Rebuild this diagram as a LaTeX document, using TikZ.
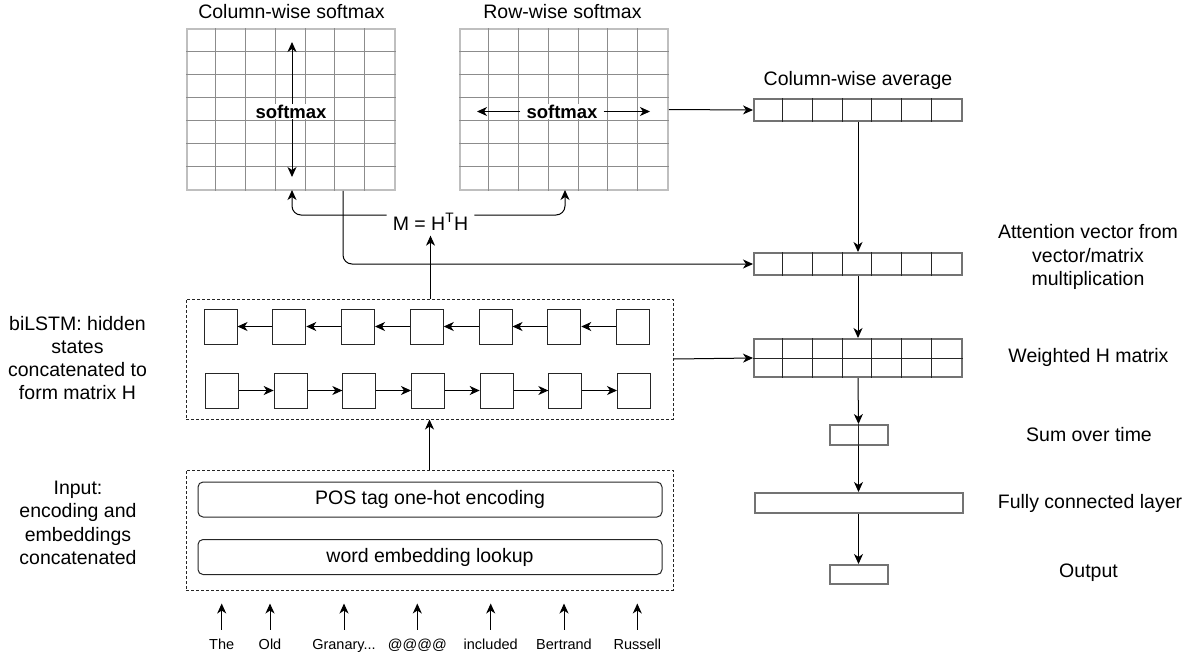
\documentclass[tikz,border=0pt]{standalone}
\usepackage{fontspec}
\setmainfont{Liberation Sans}
\usetikzlibrary{arrows.meta,calc}
\begin{document}
\begin{tikzpicture}[x=1pt,y=-1pt,
  lbl/.style={font=\fontsize{19.5}{23.3}\selectfont, align=center, inner sep=0pt},
  arr/.style={-{Stealth[length=10pt,width=9pt,inset=3pt]}, line width=1pt, black},
  gridfr/.style={draw=black!25, line width=1.5pt, minimum width=208pt, minimum height=161pt, inner sep=0pt},
  gline/.style={draw=black!45, line width=1pt},
  vecfr/.style={draw=black!55, line width=2pt, inner sep=0pt, minimum width=208pt, minimum height=22pt},
  vline/.style={draw=black!85, line width=1pt},
  cellbox/.style={draw=black!85, line width=1pt, minimum width=33pt, minimum height=35pt, inner sep=0pt},
  dbox/.style={draw=black!85, line width=1pt, dash pattern=on 3pt off 2pt, inner sep=0pt, minimum width=487pt, minimum height=120pt},
  rbox/.style={draw=black!85, line width=1pt, rounded corners=5pt, minimum width=464pt, minimum height=35pt, inner sep=0pt, font=\fontsize{19.5}{23.3}\selectfont},
  word/.style={font=\fontsize{14.5}{17}\selectfont, anchor=base, inner sep=0pt, text height=11pt, text depth=3pt},
  smx/.style={font=\fontsize{18.5}{22}\selectfont\bfseries, fill=white, inner xsep=1pt, inner ysep=0.5pt},
  warr/.style={arr, shorten <=8pt, shorten >=13pt},
]
\useasboundingbox (0,0) rectangle (1197,657);

% ---------- grids ----------
\node[gridfr] (cs) at (291,109.5) {};
\node[gridfr] (rs) at (564,109.5) {};
\foreach \g in {cs,rs}{
  \foreach \i in {1,...,6}{
    \draw[gline] ($(\g.north west)+(\i*208/7,0)$) -- ($(\g.south west)+(\i*208/7,0)$);
    \draw[gline] ($(\g.north west)+(0,\i*161/7)$) -- ($(\g.north east)+(0,\i*161/7)$);
  }
}
\node[lbl] (t1) at (291.5,12) {Column-wise softmax};
\node[lbl] (t2) at (562.5,12) {Row-wise softmax};

\node[smx] (sm1) at (291,111.5) {softmax};
\coordinate (cst) at (292,42);
\coordinate (csb) at (292,177);
\draw[arr] (sm1.north -| cst) -- (cst);
\draw[arr] (sm1.south -| csb) -- (csb);

\node[smx] (sm2) at (562,111.5) {softmax};
\coordinate (rsl) at (477,111.5);
\coordinate (rsr) at (650,111.5);
\draw[arr, shorten <=5pt] (sm2.west) -- (rsl);
\draw[arr, shorten <=5pt] (sm2.east) -- (rsr);

% ---------- vectors ----------
\node[lbl] (tavg) at (858,80) {Column-wise average};
\node[vecfr] (avg) at (858,110) {};
\node[vecfr] (att) at (858,264) {};
\node[vecfr, minimum height=38pt] (wh) at (858,358) {};
\foreach \v in {avg,att,wh}{
  \foreach \i in {1,...,6}{
    \draw[vline] ($(\v.north west)+(\i*208/7,0)$) -- ($(\v.south west)+(\i*208/7,0)$);
  }
}
\draw[vline] (wh.west) -- (wh.east);
\node[vecfr, minimum width=58pt, minimum height=20pt] (sum) at (858.5,435) {};
\draw[vline] (sum.north) -- (sum.south);
\node[vecfr, minimum height=20pt] (fc) at (858.5,503) {};
\node[vecfr, minimum width=58pt, minimum height=19pt] (out) at (858.5,574.5) {};

\draw[arr] (avg.south) -- (att.north);
\draw[arr] (att.south) -- (wh.north);
\draw[arr] (wh.south) -- (sum.north);
\draw[arr] (sum.south) -- (fc.north);
\draw[arr] (fc.south) -- (out.north);

\node[lbl] (latt) at (1088,257) {Attention vector from\\vector/matrix\\multiplication};
\node[lbl] (lwh) at (1088.5,357) {Weighted H matrix};
\node[lbl] (lsum) at (1089,435) {Sum over time};
\node[lbl] (lfc) at (1090,503) {Fully connected layer};
\node[lbl] (lout) at (1088.5,573) {Output};

% ---------- M = H^T H ----------
\node[lbl] (M) at (430.5,222) {M = H\textsuperscript{T}H};
\coordinate (ly) at (0,215);
\coordinate (csin) at (292,190);
\coordinate (rsin) at (565,190);
\coordinate (cx) at (343,0);
\draw[arr, rounded corners=9pt, shorten <=6pt] (M.west |- ly) -| (csin);
\draw[arr, rounded corners=9pt, shorten <=6pt] (M.east |- ly) -| (rsin);
\draw[arr, rounded corners=9pt] (cs.south -| cx) |- (att.west);
\draw[arr] (rs.east) -- (avg.west);

% ---------- biLSTM ----------
\node[dbox] (lstm) at (429.5,359) {};
\foreach \i in {0,...,6}{
  \node[cellbox] (u\i) at (220.5+68.75*\i,326.5) {};
  \node[cellbox] (d\i) at (222+68.67*\i,390.5) {};
}
\foreach \i [evaluate=\i as \j using int(\i+1)] in {0,...,5}{
  \draw[arr] (u\j.west) -- (u\i.east);
  \draw[arr] (d\i.east) -- (d\j.west);
}
\draw[arr, shorten >=5pt] (lstm.north -| M.south) -- (M.south);
\draw[arr] (lstm.east) -- (wh.west);

\node[lbl] (llstm) at (77.5,358) {biLSTM: hidden\\states\\concatenated to\\form matrix H};

% ---------- input ----------
\node[dbox] (inp) at (429.5,530) {};
\node[rbox] (pos) at (430,499.5) {POS tag one-hot encoding};
\node[rbox] (emb) at (430,557) {word embedding lookup};
\draw[arr] (inp.north -| lstm.south) -- (lstm.south);
\node[lbl] (linp) at (78,523) {Input:\\encoding and\\embeddings\\concatenated};

\node[word] (w1) at (221.7,649) {The};
\node[word] (w2) at (270,649) {Old};
\node[word] (w3) at (344,649) {Granary...};
\node[word] (w4) at (417.3,649) {@@@@};
\node[word] (w5) at (490.7,649) {included};
\node[word] (w6) at (564,649) {Bertrand};
\node[word] (w7) at (637.3,649) {Russell};
\foreach \k in {1,...,7}{
  \draw[warr] (w\k.north) -- (w\k.north |- inp.south);
}
\end{tikzpicture}
\end{document}
